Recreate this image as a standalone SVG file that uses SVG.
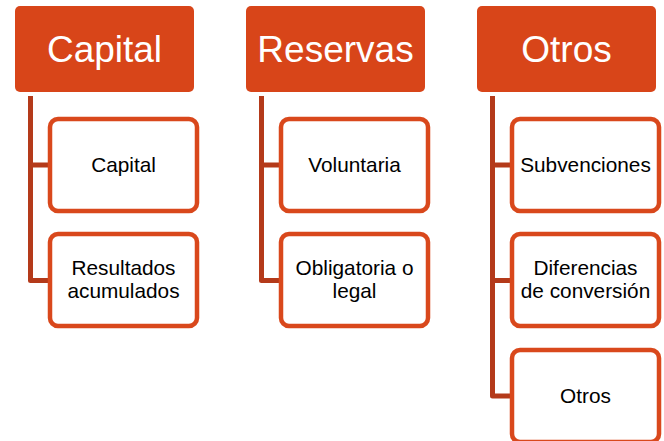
<svg xmlns="http://www.w3.org/2000/svg" width="664" height="441" viewBox="0 0 664 441">
<style>
.hdr{fill:#D84519;}
.hdrt{fill:#fff;font-family:"Liberation Sans",Arial,sans-serif;font-size:37px;text-anchor:middle;}
.box{fill:#fff;stroke:#D9481C;stroke-width:4.5;}
.bt{fill:#000;font-family:"Liberation Sans",Arial,sans-serif;font-size:20.8px;text-anchor:middle;}
.con{fill:none;stroke:#B43A1A;stroke-width:5;stroke-linejoin:round;}
</style>
<rect width="664" height="441" fill="#fff"/>
<g id="connectors">
<path class="con" d="M30.5,96 V280.5 H50 M30.5,165 H50"/>
<path class="con" d="M261.5,96 V280.5 H281 M261.5,165 H281"/>
<path class="con" d="M492.5,96 V396 H512 M492.5,165 H512 M492.5,280.5 H512"/>
</g>
<g id="h-capital"><rect class="hdr" x="15" y="6" width="179" height="86" rx="5"/><text class="hdrt" x="104.5" y="62">Capital</text></g>
<g id="h-reservas"><rect class="hdr" x="246" y="6" width="179" height="86" rx="5"/><text class="hdrt" x="335.5" y="62">Reservas</text></g>
<g id="h-otros"><rect class="hdr" x="477" y="6" width="179" height="86" rx="5"/><text class="hdrt" x="566.5" y="62">Otros</text></g>
<g id="c-capital"><rect class="box" x="50" y="119" width="147" height="92" rx="8"/><text class="bt" x="123.5" y="172">Capital</text></g>
<g id="c-resultados"><rect class="box" x="50" y="234" width="147" height="92" rx="8"/><text class="bt" x="123.5" y="275">Resultados</text><text class="bt" x="123.5" y="298">acumulados</text></g>
<g id="c-voluntaria"><rect class="box" x="281" y="119" width="147" height="92" rx="8"/><text class="bt" x="354.5" y="172">Voluntaria</text></g>
<g id="c-obligatoria"><rect class="box" x="281" y="234" width="147" height="92" rx="8"/><text class="bt" x="354.5" y="275">Obligatoria o</text><text class="bt" x="354.5" y="298">legal</text></g>
<g id="c-subvenciones"><rect class="box" x="512" y="119" width="147" height="92" rx="8"/><text class="bt" x="585.5" y="172">Subvenciones</text></g>
<g id="c-diferencias"><rect class="box" x="512" y="234" width="147" height="92" rx="8"/><text class="bt" x="585.5" y="275">Diferencias</text><text class="bt" x="585.5" y="298">de conversión</text></g>
<g id="c-otros"><rect class="box" x="512" y="350" width="147" height="92" rx="8"/><text class="bt" x="585.5" y="403">Otros</text></g>
</svg>
